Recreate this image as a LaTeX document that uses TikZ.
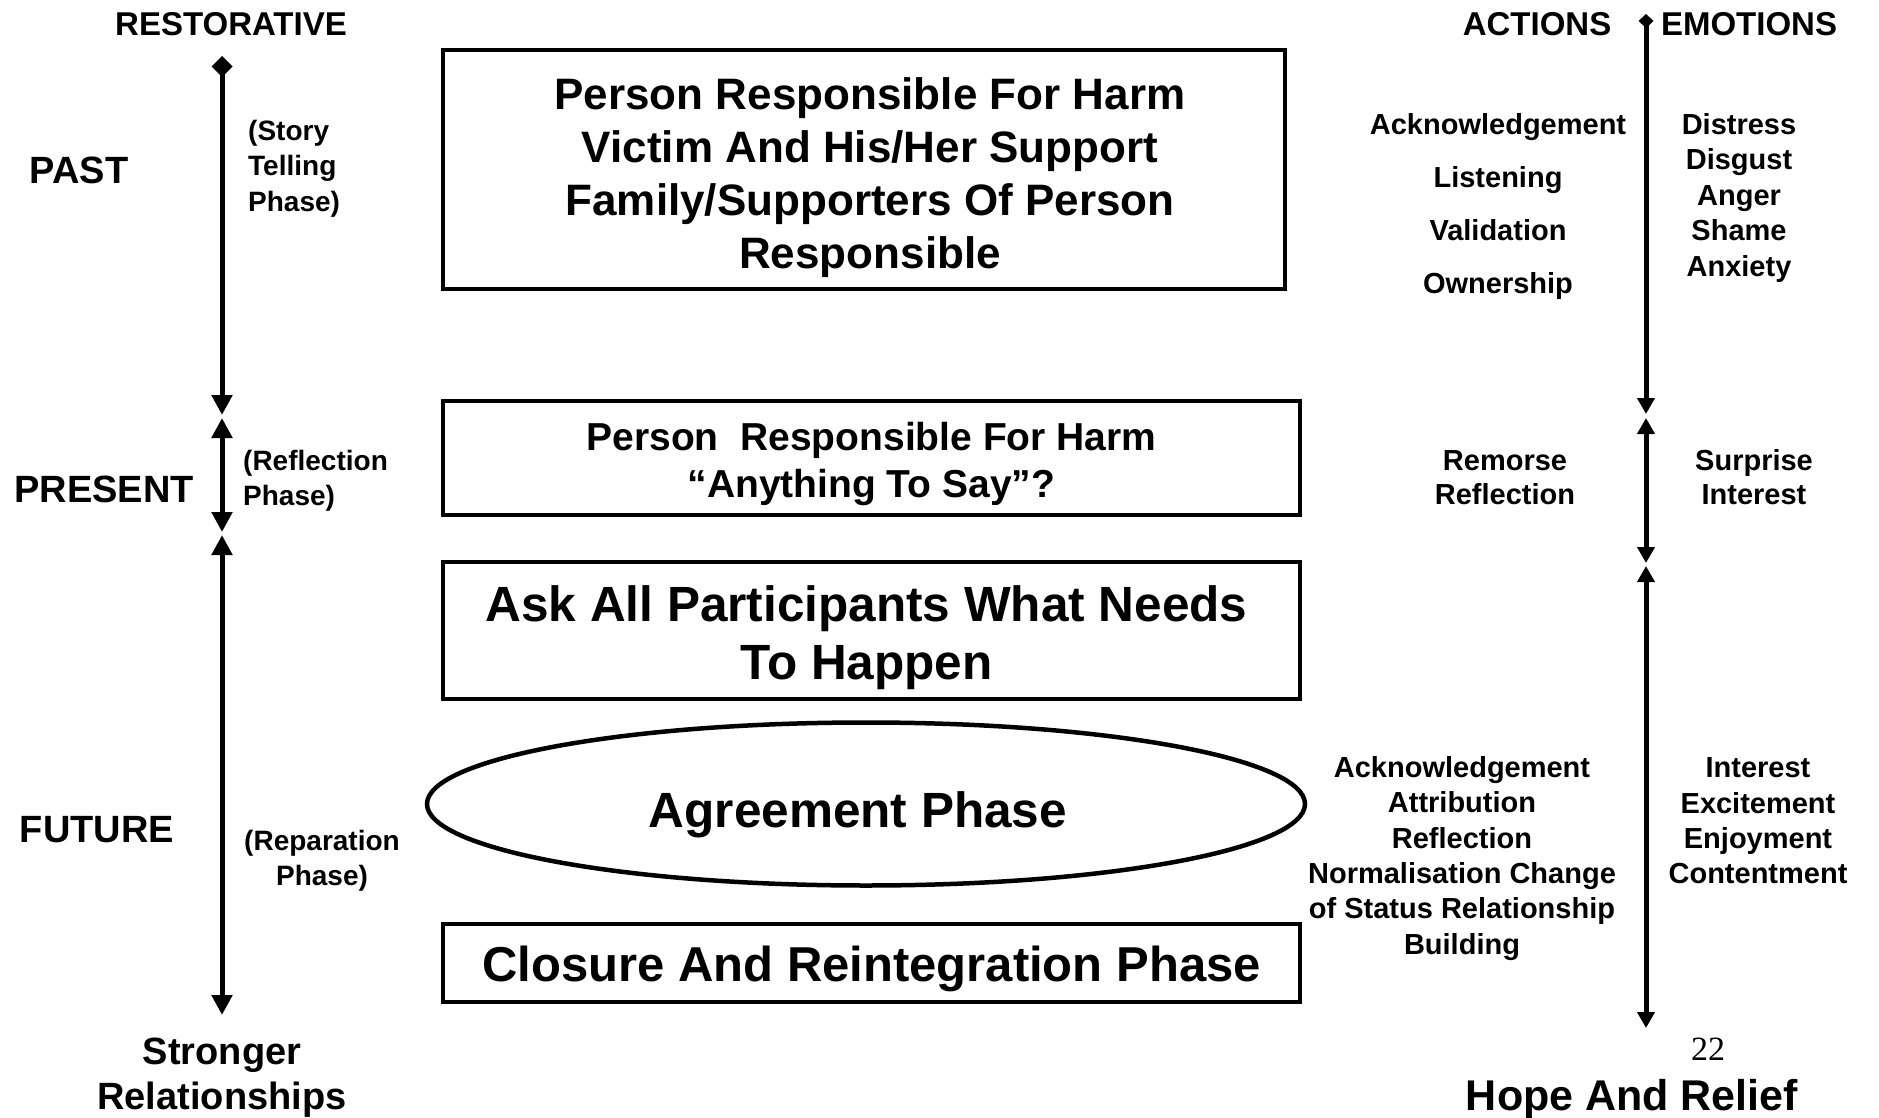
\documentclass[tikz,border=0pt]{standalone}
\usepackage{fontspec}
\setmainfont{Liberation Sans}
\newfontfamily\seriffont{Liberation Serif}
\usetikzlibrary{arrows.meta,shapes.geometric}
\newcommand\lowtext[2]{\raisebox{-#1}[\height][\depth]{\begin{tabular}{@{}c@{}}#2\end{tabular}}}
\begin{document}
\begin{tikzpicture}[x=1pt,y=-1pt,
  box/.style={draw,line width=4.5pt,rectangle,align=center,inner sep=0pt},
  oval/.style={draw,line width=4.5pt,ellipse,align=center,inner sep=0pt},
  txt/.style={align=center,inner sep=0pt},
  hdr/.style={txt,font=\bfseries\fontsize{33}{40}\selectfont},
  era/.style={txt,font=\bfseries\fontsize{38}{45}\selectfont},
  phasetxt/.style={inner sep=0pt,font=\bfseries\fontsize{28}{35.5}\selectfont},
  side/.style={txt,font=\bfseries\fontsize{29}{35.3}\selectfont},
  axis/.style={line width=5pt},
]
\useasboundingbox (0,0) rectangle (1879,1118);

% central boxes
\node[box,minimum width=842pt,minimum height=239pt,font=\bfseries\fontsize{44}{53}\selectfont] (b1) at (864,169.5)
  {\kern12pt\lowtext{9pt}{Person Responsible For Harm\\Victim And His/Her Support\\Family/Supporters Of Person\\Responsible}};
\node[box,minimum width=857pt,minimum height=114pt,font=\bfseries\fontsize{39}{47}\selectfont] (b2) at (871.5,458)
  {\lowtext{7pt}{Person\ \ Responsible For Harm\\“Anything To Say”?}};
\node[box,minimum width=857pt,minimum height=137pt,font=\bfseries\fontsize{49.5}{58}\selectfont] (b3) at (871.5,630.5)
  {\lowtext{8pt}{Ask All Participants What Needs\\To Happen}\kern10pt};
\node[oval,minimum width=878pt,minimum height=163pt,font=\bfseries\fontsize{49.5}{58}\selectfont] (b4) at (866,804)
  {\lowtext{12pt}{Agreement Phase}\kern16pt};
\node[box,minimum width=857pt,minimum height=78pt,font=\bfseries\fontsize{49}{58}\selectfont] (b5) at (871.5,963)
  {\lowtext{7pt}{Closure And Reintegration Phase}};

% headers
\node[hdr] (restor) at (231,24) {RESTORATIVE};
\node[hdr] (actions) at (1537,24) {ACTIONS};
\node[hdr] (emotions) at (1749,24) {EMOTIONS};

% eras
\node[era] (past) at (79,170) {PAST};
\node[era] (present) at (104,489) {PRESENT};
\node[era] (future) at (97,830) {FUTURE};
\node[era] (stronger) at (222,1078) {Stronger\\Relationships};

% phases
\node[phasetxt,align=left,anchor=west] (story) at (248,168.5) {(Story\\Telling\\Phase)};
\node[phasetxt,align=left,anchor=west] (reflect) at (243,481) {(Reflection\\Phase)};
\node[phasetxt,align=center] (repar) at (322,861) {(Reparation\\Phase)};

% actions and emotions
\node[txt,font=\bfseries\fontsize{29}{53}\selectfont] (actpast) at (1498,206.5)
  {Acknowledgement\\Listening\\Validation\\Ownership};
\node[side,font=\bfseries\fontsize{29}{35.5}\selectfont] (emopast) at (1739,198)
  {Distress\\Disgust\\Anger\\Shame\\Anxiety};
\node[side,font=\bfseries\fontsize{29}{34}\selectfont] (actpres) at (1505,478) {Remorse\\Reflection};
\node[side,font=\bfseries\fontsize{29}{34}\selectfont] (emopres) at (1754,477) {Surprise\\Interest};
\node[side] (actfut) at (1462,858.5)
  {Acknowledgement\\Attribution\\Reflection\\Normalisation Change\\of Status Relationship\\Building};
\node[side] (emofut) at (1758,821) {Interest\\Excitement\\Enjoyment\\Contentment};

\node[txt,font=\seriffont\fontsize{34}{40}\selectfont] (pagenum) at (1708,1049) {22};
\node[txt,font=\bfseries\fontsize{43}{50}\selectfont] (hope) at (1632,1099) {Hope And Relief};

% left axis
\coordinate (la) at (222,56);
\coordinate (lb) at (222,415);
\coordinate (lc) at (222,418);
\coordinate (ld) at (222,532);
\coordinate (le) at (222,535);
\coordinate (lf) at (222,1015);
\draw[axis,{Diamond[width=21pt,length=21pt]}-{Triangle[width=20pt,length=20pt]}] (la) -- (lb);
\draw[axis,{Triangle[width=20pt,length=20pt]}-{Triangle[width=20pt,length=20pt]}] (lc) -- (ld);
\draw[axis,{Triangle[width=20pt,length=20pt]}-{Triangle[width=20pt,length=20pt]}] (le) -- (lf);

% right axis
\coordinate (ra) at (1646,14);
\coordinate (rb) at (1646,414);
\coordinate (rc) at (1646,418);
\coordinate (rd) at (1646,563);
\coordinate (re) at (1646,566);
\coordinate (rf) at (1646,1028);
\draw[axis,{Diamond[width=15pt,length=14pt]}-{Triangle[width=17pt,length=16pt]}] (ra) -- (rb);
\draw[axis,{Triangle[width=17pt,length=16pt]}-{Triangle[width=17pt,length=16pt]}] (rc) -- (rd);
\draw[axis,{Triangle[width=17pt,length=16pt]}-{Triangle[width=17pt,length=16pt]}] (re) -- (rf);
\end{tikzpicture}
\end{document}
